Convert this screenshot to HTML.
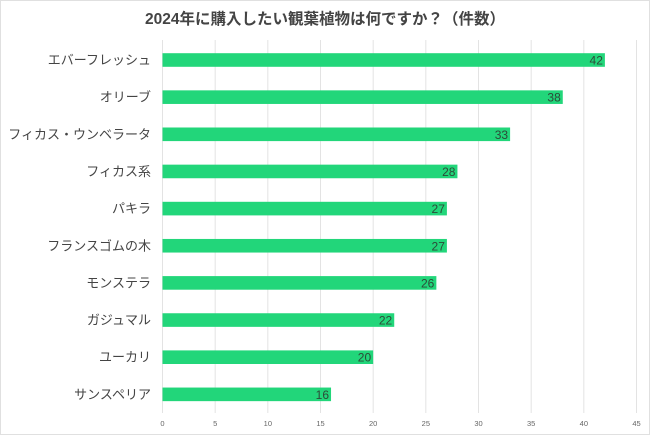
<!DOCTYPE html>
<html><head><meta charset="utf-8"><style>
body{margin:0;background:#fff;}
svg{display:block;font-family:"Liberation Sans","Noto Sans CJK JP",sans-serif;}
</style></head><body>
<svg id="c" width="650" height="435">
<rect x="0.5" y="0.5" width="649" height="434" fill="#fff" stroke="#e0e0e0"/>
<text x="325" y="24" text-anchor="middle" font-size="15.5" font-weight="bold" fill="#444">2024年に購入したい観葉植物は何ですか？（件数）</text>
<g id="grid"></g><g id="bars"></g>
</svg>
<script>
const categories=["エバーフレッシュ","オリーブ","フィカス・ウンベラータ","フィカス系","パキラ","フランスゴムの木","モンステラ","ガジュマル","ユーカリ","サンスペリア"];
const values=[42,38,33,28,27,27,26,22,20,16];
const ticks=[0,5,10,15,20,25,30,35,40,45];
const NS="http://www.w3.org/2000/svg";
const x=v=>162.5+v*(636.5-162.5)/45;
const y=i=>60+i*37.15;
const g=document.getElementById('grid'),b=document.getElementById('bars');
function mk(t,a,p){const e=document.createElementNS(NS,t);for(const k in a)e.setAttribute(k,a[k]);p.appendChild(e);return e;}
ticks.forEach(t=>{
 const l=mk('line',{x1:x(t),x2:x(t),y1:40,y2:413,stroke:'#e3e3e3','stroke-width':1},g);
 
 
 const tx=mk('text',{x:x(t),y:426,'text-anchor':'middle','font-size':7.5,fill:'#666'},g);
 tx.textContent=t;
 
 
});
categories.forEach((c,i)=>{
 const r=mk('rect',{x:x(0),y:y(i)-6.8,width:x(values[i])-x(0),height:13.6,fill:'#22d67a'},b);
 
 
 const v=mk('text',{x:x(values[i])-2,y:y(i)+4.5,'text-anchor':'end','font-size':12,fill:'#2d4a38'},b);
 v.textContent=values[i];
 
 
 const l=mk('text',{x:151,y:y(i)+4.5,'text-anchor':'end','font-size':13,fill:'#444'},b);
 l.textContent=c;
 
 
});
</script>
</body></html>
